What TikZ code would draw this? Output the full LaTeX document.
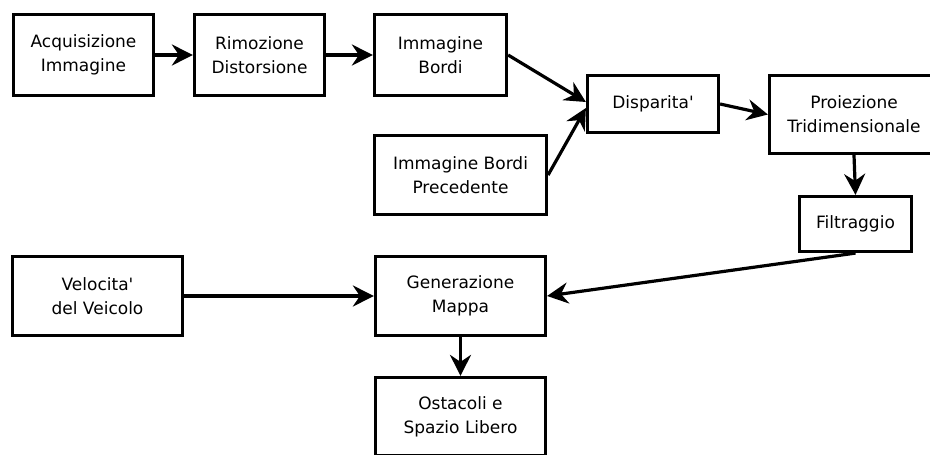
\documentclass[tikz,border=0pt]{standalone}
\usepackage{fontspec}
\setmainfont{DejaVu Sans}
\usetikzlibrary{arrows.meta}

\tikzset{
  block/.style={draw=black, line width=3.2pt, fill=white, align=center,
    inner sep=0pt, font=\fontsize{17}{24}\selectfont},
  flow/.style={line width=3.2pt, -{Stealth[length=21pt,width=21pt,inset=7pt]}}
}

\begin{document}
\begin{tikzpicture}[x=1pt, y=-1pt]
  \useasboundingbox (0,0) rectangle (930,455);
  \clip (0,0) rectangle (930,455);

  % processing blocks (centre, size)
  \node[block, minimum width=140pt, minimum height=81pt] (acq)  at (83.5,55)   {Acquisizione\\Immagine};
  \node[block, minimum width=130pt, minimum height=81pt] (rim)  at (259.5,55)  {Rimozione\\Distorsione};
  \node[block, minimum width=132pt, minimum height=81pt] (bor)  at (440.5,55)  {Immagine\\Bordi};
  \node[block, minimum width=131pt, minimum height=57pt] (disp) at (653,104)   {Disparita\textquotesingle};
  \node[block, minimum width=169pt, minimum height=78pt] (proi) at (854,114.5) {Proiezione\\Tridimensionale};
  \node[block, minimum width=172pt, minimum height=79pt] (prec) at (460.5,175) {Immagine Bordi\\Precedente};
  \node[block, minimum width=112pt, minimum height=55pt] (filt) at (855.5,224) {Filtraggio};
  \node[block, minimum width=170pt, minimum height=79pt] (vel)  at (97.5,296)  {Velocita\textquotesingle\\del Veicolo};
  \node[block, minimum width=170pt, minimum height=79pt] (gen)  at (460.5,296) {Generazione\\Mappa};
  \node[block, minimum width=170pt, minimum height=78pt] (ost)  at (460.5,416.5) {Ostacoli e\\Spazio Libero};

  % data flow
  \draw[flow] (acq.east) -- (rim.west);
  \draw[flow] (rim.east) -- (bor.west);
  \draw[flow] (bor.east) -- ([yshift=2pt]disp.west);
  \draw[flow] (prec.east) -- ([yshift=-4pt]disp.west);
  \draw[flow] (disp.east) -- (proi.west);
  \draw[flow] (proi.south) -- (filt.north);
  \draw[flow] (filt.south) -- (gen.east);
  \draw[flow] (vel.east) -- (gen.west);
  \draw[flow] (gen.south) -- (ost.north);
\end{tikzpicture}
\end{document}
